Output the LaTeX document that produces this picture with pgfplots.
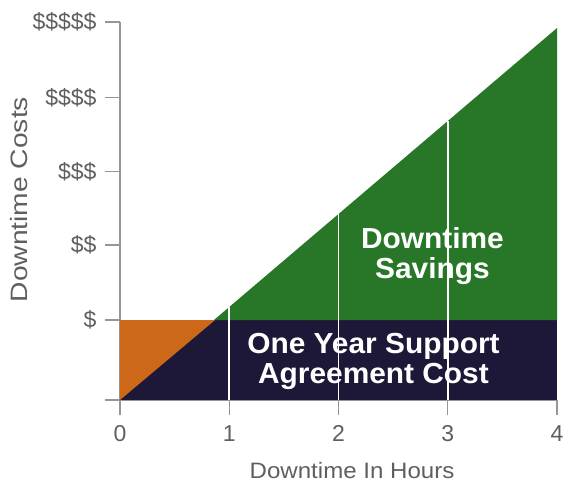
\documentclass[border=0pt]{standalone}
\usepackage{fontspec}
\setmainfont{Liberation Sans}
\newfontfamily\xlabfont[FakeStretch=1.08]{Liberation Sans}
\newfontfamily\ylabfont[FakeStretch=1.19]{Liberation Sans}
\newfontfamily\boldfont[FakeStretch=1.03]{Liberation Sans}
\usepackage{pgfplots}
\pgfplotsset{compat=1.18}
\definecolor{navy}{RGB}{30,24,56}
\definecolor{myorange}{RGB}{204,104,24}
\definecolor{mygreen}{RGB}{40,118,40}
\definecolor{axgray}{RGB}{150,150,150}
\definecolor{txtgray}{RGB}{95,95,95}
\begin{document}
\begin{tikzpicture}
\begin{axis}[
  scale only axis, width=437pt, height=378pt,
  xmin=0, xmax=4, ymin=0, ymax=5,
  axis x line*=bottom, axis y line*=left,
  axis line style={-, draw=axgray, line width=1.3pt},
  tick style={draw=axgray, line width=1.3pt},
  tick align=outside, major tick length=15pt,
  xtick={0,1,2,3,4}, xticklabels={0,1,2,3,4},
  ytick={0,1.058,2.05,3.02,4,5},
  yticklabels={,\$,\$\$,\$\$\$,\$\$\$\$,\$\$\$\$\$},
  ticklabel style={font=\fontsize{23}{26}\selectfont, text=txtgray},
  xticklabel style={yshift=-7pt},
  yticklabel style={xshift=-5pt},
  /pgf/number format/assume math mode=true,
  xlabel={Downtime In Hours},
  ylabel={Downtime Costs},
  xlabel style={font=\xlabfont\fontsize{22.3}{25}\selectfont, text=txtgray,
    at={(axis description cs:0.531,-0.186)}, anchor=center},
  ylabel style={font=\ylabfont\fontsize{23.7}{26}\selectfont, text=txtgray,
    at={(axis description cs:-0.232,0.530)}, anchor=center},
  clip=false,
]
\coordinate (O) at (axis cs:0,0);
% support agreement cost rectangle
\addplot[fill=navy, draw=none] coordinates {(0,0) (4,0) (4,1.058) (0,1.058)} -- cycle;
% orange triangle above the diagonal
\addplot[fill=myorange, draw=none] coordinates {(0,0) (0,1.058) (0.87,1.058)} -- cycle;
% downtime savings
\addplot[fill=mygreen, draw=none] coordinates {(0.86,1.058) (4,4.92) (4,1.058)} -- cycle;
% white hour separators
\addplot[white, line width=1.8pt] coordinates {(1,0) (1,1.23)};
\addplot[white, line width=1.8pt] coordinates {(2,0) (2,2.46)};
\addplot[white, line width=1.8pt] coordinates {(3,0) (3,3.69)};
\node[font=\boldfont\bfseries\fontsize{29}{30}\selectfont, text=white, align=center] at (axis cs:2.86,1.9) {Downtime\\Savings};
\node[font=\boldfont\bfseries\fontsize{29}{30}\selectfont, text=white, align=center] at (axis cs:2.32,0.51) {One Year Support\\Agreement Cost};
\end{axis}
\pgfresetboundingbox
\path[use as bounding box] (O) ++(-120pt,-85pt) rectangle ++(565pt,485pt);
\end{tikzpicture}
\end{document}
